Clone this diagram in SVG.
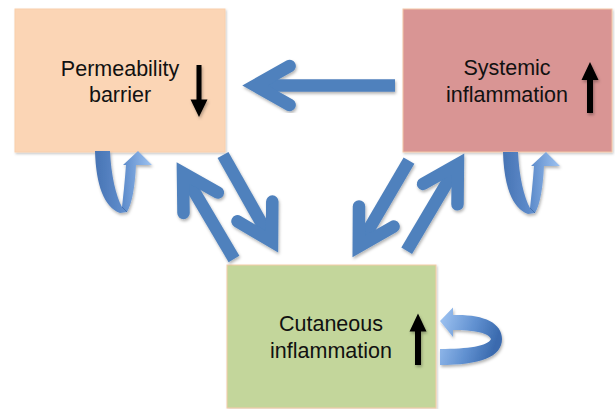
<svg xmlns="http://www.w3.org/2000/svg" width="615" height="409" viewBox="0 0 615 409">
<defs>
<style>
.box{stroke-width:1}
.lbl{font-family:"Liberation Sans",Arial,sans-serif;font-size:21.5px;fill:#111;text-anchor:middle}
.shaft{fill:none;stroke:#4F81BD;stroke-width:12.5;stroke-linecap:butt}
.head{fill:none;stroke:#4F81BD;stroke-width:12.5;stroke-linecap:round;stroke-linejoin:miter;stroke-miterlimit:10}
.blk{fill:#000}
</style>
<filter id="sh" x="-20%" y="-20%" width="140%" height="140%">
<feDropShadow dx="1" dy="2" stdDeviation="1.5" flood-color="#000" flood-opacity="0.3"/>
</filter>
<filter id="bsh" x="-5%" y="-5%" width="110%" height="110%">
<feDropShadow dx="1" dy="1.5" stdDeviation="1.2" flood-color="#000" flood-opacity="0.22"/>
</filter>
<linearGradient id="gv" x1="0" y1="0" x2="1" y2="0">
<stop offset="0" stop-color="#4874B4"/>
<stop offset="0.5" stop-color="#5F8DCC"/>
<stop offset="1" stop-color="#9DC2F0"/>
</linearGradient>
<linearGradient id="gh" x1="0" y1="0" x2="1" y2="0.3">
<stop offset="0" stop-color="#A3C7F4"/>
<stop offset="0.6" stop-color="#6090D0"/>
<stop offset="1" stop-color="#3A6AAE"/>
</linearGradient>
<path id="uturn" d="M95,151 L110,151 C111,175 116,196 122,207 C124,190 125,178 126,165 L123,165 L138,151 L152,165 L136,165 C135,186 132,204 127,212 L120,213 C104,207 96,185 95,151 Z"/>
</defs>
<rect width="615" height="409" fill="#fff"/>

<g id="node-permeability">
<rect class="box" x="15" y="9" width="210" height="143" fill="#FBD5B5" stroke="#F9CFAC" filter="url(#bsh)"/>
<text class="lbl" x="120" y="76">Permeability</text>
<text class="lbl" x="120" y="102">barrier</text>
<path class="blk" filter="url(#sh)" d="M196.5,65 H201.5 V99.5 H207.5 L199,117 L190.5,99.5 H196.5 Z"/>
</g>

<g id="node-systemic">
<rect class="box" x="403" y="9" width="209" height="143" fill="#D99594" stroke="#F3C6A6" filter="url(#bsh)"/>
<text class="lbl" x="507" y="75">Systemic</text>
<text class="lbl" x="507" y="102">inflammation</text>
<path class="blk" filter="url(#sh)" d="M587,113 H593 V80 H598.5 L590,62 L581.5,80 H587 Z"/>
</g>

<g id="node-cutaneous">
<rect class="box" x="227" y="265" width="209" height="143" fill="#C3D69B" stroke="#F6CBA8" filter="url(#bsh)"/>
<text class="lbl" x="331" y="331">Cutaneous</text>
<text class="lbl" x="331" y="358">inflammation</text>
<path class="blk" filter="url(#sh)" d="M415,365 H421 V331.5 H426.5 L418,313.5 L409.5,331.5 H415 Z"/>
</g>

<g id="connectors">
<g id="systemic-to-permeability" filter="url(#sh)">
<line class="shaft" x1="395" y1="85.5" x2="258" y2="85.5"/>
<polyline class="head" points="289.6,66 255,85.5 289.6,105"/>
</g>
<g id="cutaneous-to-permeability" filter="url(#sh)">
<line class="shaft" x1="234" y1="259" x2="185" y2="176"/>
<polyline class="head" points="217.9,192.6 183,173 183.5,213"/>
</g>
<g id="permeability-to-cutaneous" filter="url(#sh)">
<line class="shaft" x1="223" y1="155" x2="270.5" y2="239"/>
<polyline class="head" points="237.5,221.3 272,241.6 272.3,201.6"/>
</g>
<g id="systemic-to-cutaneous" filter="url(#sh)">
<line class="shaft" x1="409" y1="160.7" x2="360.5" y2="243.5"/>
<polyline class="head" points="393.6,226.6 358.8,246.4 359,206.4"/>
</g>
<g id="cutaneous-to-systemic" filter="url(#sh)">
<line class="shaft" x1="406.7" y1="250.7" x2="456" y2="167.5"/>
<polyline class="head" points="423.1,183.9 457.9,164.3 457.5,204.3"/>
</g>
<g id="loop-permeability" filter="url(#sh)">
<use href="#uturn" fill="url(#gv)"/>
<path d="M122,207 L127,212" stroke="#3E6AA6" stroke-width="0.8" fill="none"/>
</g>
<g id="loop-systemic" filter="url(#sh)" transform="translate(408,1)">
<use href="#uturn" fill="url(#gv)"/>
<path d="M122,207 L127,212" stroke="#3E6AA6" stroke-width="0.8" fill="none"/>
</g>
<g id="loop-cutaneous" filter="url(#sh)">
<path fill="url(#gh)" d="M440,321 L453,307.5 L453,315 C482,314 502,322 502,339 C502,357 480,365 440,365 L440,349 C468,349 488,346 491,339 C489,333 474,330 453,330 L453,337 Z"/>
</g>
</g>
</svg>
